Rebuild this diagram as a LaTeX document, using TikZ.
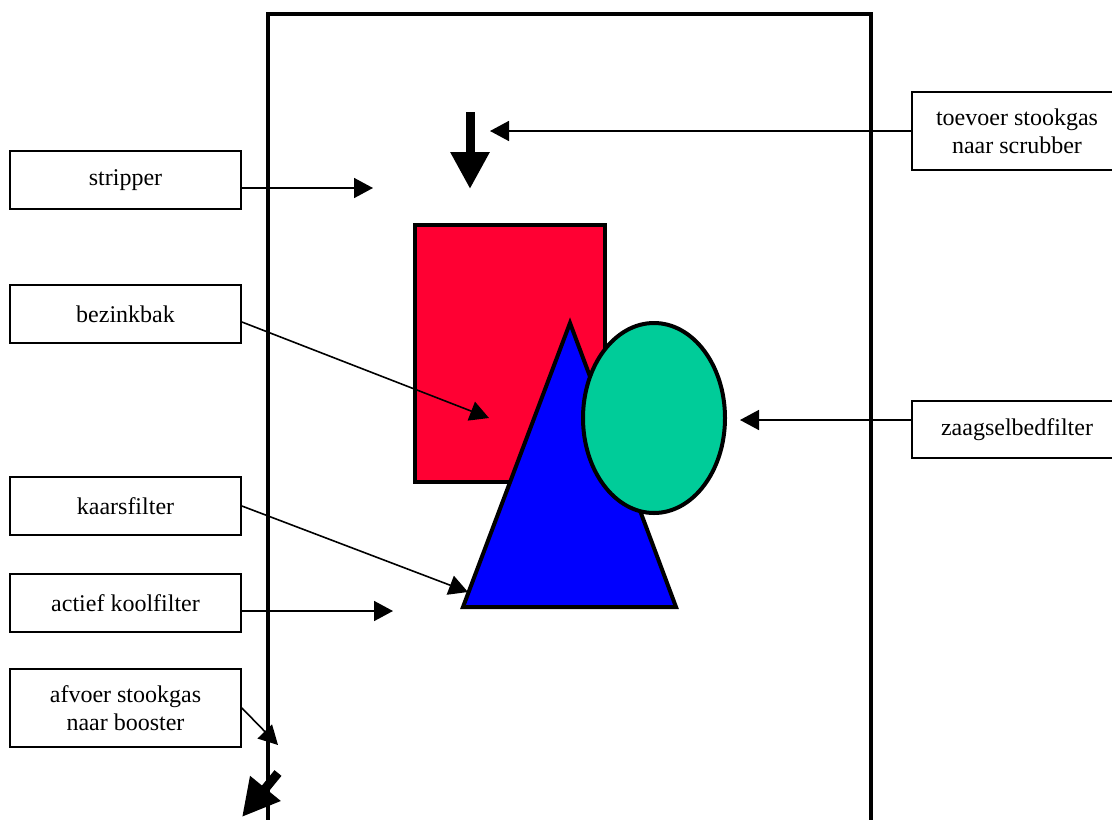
\documentclass[tikz,border=0pt]{standalone}
\usepackage{fontspec}
\setmainfont{Liberation Serif}
\usetikzlibrary{arrows.meta}
\definecolor{bakred}{HTML}{FF0033}
\definecolor{kaarsblue}{HTML}{0000FF}
\definecolor{zaagselgreen}{HTML}{00CC99}
\tikzset{
  labelbox/.style={draw,line width=0.9pt,minimum width=115.5pt,minimum height=29pt,
    inner sep=0pt,align=center,font=\fontsize{12}{14}\selectfont},
  pointer/.style={line width=0.8pt,-{Triangle[length=9.5pt,width=10pt]}},
  bigpointer/.style={line width=4.5pt,-{Triangle[length=18.5pt,width=18.5pt]}},
  vatline/.style={line width=2pt}
}
\begin{document}
\begin{tikzpicture}[x=0.5pt,y=-0.5pt]
            \useasboundingbox (0,0) rectangle (1112,819);

            % vessel
            \draw[vatline](268,821)--(268,14)--(871,14)--(871,821);

            % filters
            \filldraw[vatline,fill=bakred](415,225)rectangle(605,482);
            \filldraw[vatline,fill=kaarsblue](570,323)--(676,607)--(463,607)--cycle;
            \filldraw[vatline,fill=zaagselgreen](654,418)ellipse[x radius=71,y radius=95];

            % labels
            \node[labelbox](stripper) at (125.5,180){stripper};
            \node[labelbox](bezinkbak) at (125.5,314){bezinkbak};
            \node[labelbox](kaarsfilter) at (125.5,506){kaarsfilter};
            \node[labelbox](koolfilter) at (125.5,603){actief koolfilter};
            \node[labelbox,minimum height=39pt](afvoer) at (125.5,708){afvoer stookgas\\naar booster};
            \node[labelbox,minimum width=105pt,minimum height=39pt](toevoer) at (1017,131){toevoer stookgas\\naar scrubber};
            \node[labelbox,minimum width=105pt,minimum height=28.5pt](zaagsel) at (1017,429.5){zaagselbedfilter};

            \coordinate (strippertip) at (373,188);
            \coordinate (bezinktip) at (489,418);
            \coordinate (kaarstip) at (468,592);
            \coordinate (kooltip) at (393,611);
            \coordinate (afvoertip) at (278,745);
            \coordinate (toevoertip) at (490,131);
            \coordinate (zaagseltip) at (740,420);
            \coordinate (gasin) at (470,112);
            \coordinate (gasindown) at (470,189);
            \coordinate (gasout) at (278,773);
            \coordinate (gasoutend) at (242,817);

            \draw[pointer]([yshift=-4pt]stripper.east)--(strippertip);
            \draw[pointer]([yshift=-4pt]bezinkbak.east)--(bezinktip);
            \draw[pointer](kaarsfilter.east)--(kaarstip);
            \draw[pointer]([yshift=-4pt]koolfilter.east)--(kooltip);
            \draw[pointer](afvoer.east)--(afvoertip);
            \draw[pointer](toevoer.west)--(toevoertip);
            \draw[pointer]([yshift=4.75pt]zaagsel.west)--(zaagseltip);

            \draw[bigpointer](gasin)--(gasindown);
            \draw[bigpointer](gasout)--(gasoutend);
        \end{tikzpicture}
\end{document}
